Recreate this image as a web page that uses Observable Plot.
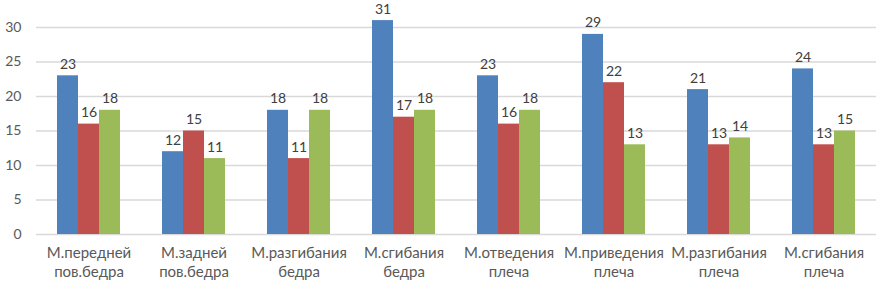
<!DOCTYPE html>
<html><head><meta charset="utf-8">
<script src="https://cdn.jsdelivr.net/npm/d3@7"></script>
<script src="https://cdn.jsdelivr.net/npm/@observablehq/plot@0.6"></script>
<style>body{margin:0;background:#fff}</style>
</head><body><div id="chart"></div>
<script>
const categories = ["М.передней\nпов.бедра","М.задней\nпов.бедра","М.разгибания\nбедра","М.сгибания\nбедра","М.отведения\nплеча","М.приведения\nплеча","М.разгибания\nплеча","М.сгибания\nплеча"];
const seriesNames = ["Ряд 1","Ряд 2","Ряд 3"];
const series1 = [23,12,18,31,23,29,21,24];
const series2 = [16,15,11,17,16,22,13,13];
const series3 = [18,11,18,18,18,13,14,15];
const yTicks = [0,5,10,15,20,25,30];
const colors = ["#4F81BD","#C0504D","#9BBB59"];

const all = [series1, series2, series3];
const data = [];
categories.forEach((c, i) => all.forEach((s, j) => data.push({cat: c, ser: seriesNames[j], v: s[i]})));

const font = "Lato, 'Open Sans', sans-serif";
const chart = Plot.plot({
  width: 881, height: 283,
  marginLeft: 32, marginRight: 2, marginTop: 27, marginBottom: 49,
  style: {fontFamily: font, fontSize: "14px", color: "#595959", background: "#fff"},
  fx: {domain: categories, padding: 0},
  x: {domain: seriesNames, paddingInner: 0, paddingOuter: 1, axis: null},
  y: {domain: [0, 30]},
  color: {domain: seriesNames, range: colors},
  marks: [
    Plot.ruleY(yTicks, {stroke: "#D9D9D9", strokeWidth: 1.5}),
    Plot.axisY({ticks: yTicks, tickSize: 0, tickPadding: 15, label: null, fontSize: 14, fill: "#595959"}),
    Plot.axisFx({anchor: "bottom", tickSize: 0, tickPadding: 10, label: null, fontSize: 15, lineHeight: 1.25, fill: "#595959"}),
    Plot.barY(data, {fx: "cat", x: "ser", y: "v", fill: "ser"}),
    Plot.text(data, {fx: "cat", x: "ser", y: "v", text: d => String(d.v), dy: -11.5, fill: "#404040", fontSize: 14})
  ]
});
document.getElementById("chart").appendChild(chart);
</script>
</body></html>
